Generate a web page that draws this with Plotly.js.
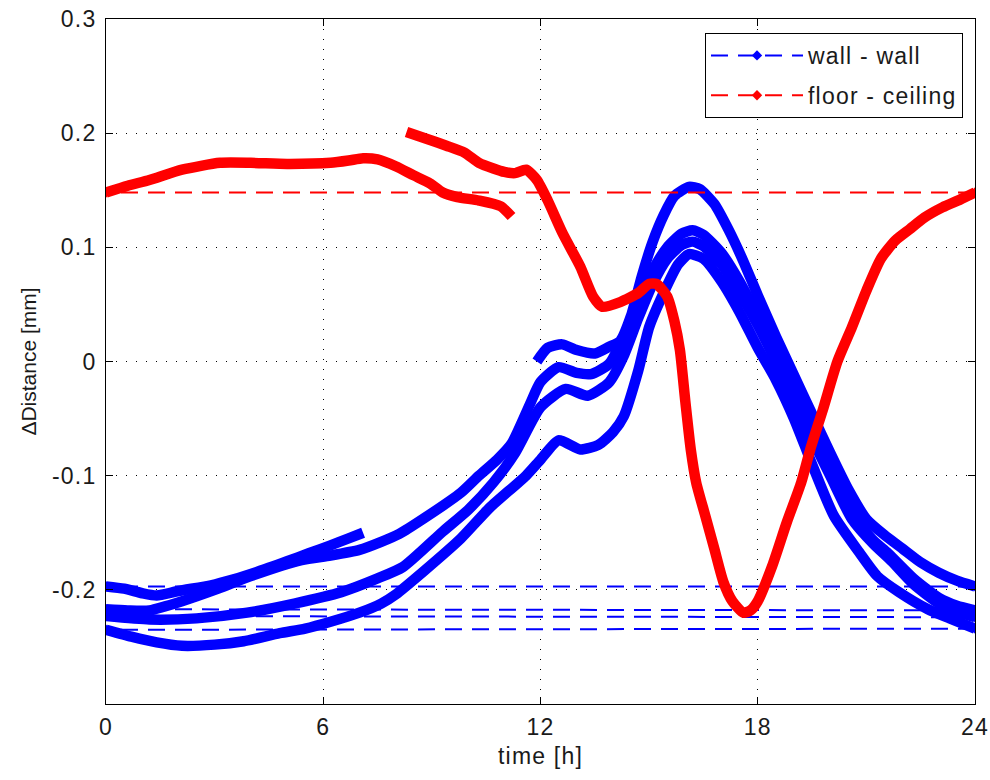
<!DOCTYPE html>
<html>
<head>
<meta charset="utf-8">
<script src="https://cdn.plot.ly/plotly-3.0.1.min.js"></script>
<style>
html,body{margin:0;padding:0;background:#fff;}
#chart{width:990px;height:780px;}
svg text{letter-spacing:1.2px;}
svg text.ytitle{letter-spacing:0px;}
</style>
</head>
<body>
<div id="chart"></div>
<script>
// ---- tick labels ----
const xTicks = [0, 6, 12, 18, 24];
const xTickText = ["0", "6", "12", "18", "24"];
const yTicks = [-0.2, -0.1, 0, 0.1, 0.2, 0.3];
const yTickText = ["-0.2", "-0.1", "0", "0.1", "0.2", "0.3"];
const seriesNames = ["wall - wall", "floor - ceiling"];

// ---- wall - wall, series 1 (starts at 11.9 h, wraps past 24 h) ----
const w1aX = [11.9, 12.2, 12.6, 13.0, 13.5, 13.9, 14.2, 14.5, 14.8, 15.1, 15.4, 15.7, 16.1, 16.4, 16.8, 17.2, 17.6, 18.0, 18.5, 19.0, 19.5, 20.0, 20.5, 21.0, 21.5, 22.0, 22.5, 23.0, 23.5, 24.0];
const w1aY = [0.000, 0.012, 0.015, 0.010, 0.007, 0.013, 0.018, 0.040, 0.075, 0.105, 0.128, 0.145, 0.153, 0.151, 0.138, 0.115, 0.088, 0.058, 0.022, -0.012, -0.046, -0.080, -0.112, -0.138, -0.152, -0.164, -0.176, -0.185, -0.192, -0.197];
const w1bX = [0, 0.5, 1.0, 1.4, 2.0, 2.9, 3.5, 4.2, 5.0, 5.6, 6.2, 6.7, 7.1];
const w1bY = [-0.197, -0.199, -0.203, -0.205, -0.201, -0.196, -0.191, -0.184, -0.175, -0.168, -0.161, -0.155, -0.150];

// ---- wall - wall, series 2 ----
const w2X = [0, 0.6, 1.2, 2.1, 3.1, 4.0, 5.4, 6.2, 7.0, 7.6, 8.1, 8.8, 9.8, 10.3, 10.8, 11.2, 11.7, 12.0, 12.5, 13.0, 13.4, 13.9, 14.3, 14.7, 15.1, 15.5, 15.9, 16.2, 16.5, 17.0, 17.5, 18.0, 18.5, 19.0, 19.5, 20.0, 20.7, 21.2, 21.6, 22.3, 23.0, 23.5, 24.0];
const w2Y = [-0.217, -0.218, -0.218, -0.210, -0.199, -0.188, -0.174, -0.170, -0.165, -0.158, -0.151, -0.137, -0.115, -0.100, -0.086, -0.072, -0.038, -0.018, -0.005, -0.010, -0.011, -0.002, 0.022, 0.052, 0.080, 0.100, 0.112, 0.115, 0.111, 0.095, 0.070, 0.040, 0.008, -0.027, -0.062, -0.095, -0.138, -0.157, -0.168, -0.190, -0.207, -0.214, -0.218];

// ---- wall - wall, series 3 ----
const w3X = [0, 1.2, 2.5, 3.9, 5.2, 6.5, 7.5, 8.2, 9.3, 10.0, 10.7, 11.3, 12.0, 12.7, 13.3, 13.9, 14.3, 14.7, 15.1, 15.5, 15.9, 16.2, 16.5, 17.0, 17.5, 18.0, 18.5, 19.0, 19.5, 20.0, 20.6, 21.2, 21.7, 22.3, 23.0, 23.5, 24.0];
const w3Y = [-0.223, -0.226, -0.225, -0.220, -0.212, -0.202, -0.190, -0.180, -0.149, -0.130, -0.106, -0.080, -0.040, -0.024, -0.030, -0.018, 0.005, 0.038, 0.068, 0.090, 0.102, 0.105, 0.101, 0.085, 0.060, 0.032, 0.000, -0.034, -0.068, -0.100, -0.138, -0.160, -0.175, -0.195, -0.212, -0.219, -0.224];

// ---- wall - wall, series 4 ----
const w4X = [0, 0.7, 1.4, 2.1, 3.0, 3.8, 4.8, 5.5, 6.2, 7.0, 7.6, 8.0, 8.8, 9.8, 10.6, 11.6, 12.0, 12.5, 13.1, 13.6, 14.0, 14.3, 14.7, 15.0, 15.4, 15.8, 16.1, 16.5, 17.0, 17.5, 18.0, 18.5, 19.0, 19.5, 20.1, 20.8, 21.3, 21.9, 22.7, 23.3, 24.0];
const w4Y = [-0.235, -0.241, -0.246, -0.249, -0.248, -0.245, -0.238, -0.234, -0.228, -0.220, -0.212, -0.204, -0.183, -0.155, -0.128, -0.100, -0.086, -0.069, -0.077, -0.073, -0.062, -0.048, -0.008, 0.030, 0.060, 0.085, 0.094, 0.090, 0.070, 0.043, 0.012, -0.016, -0.050, -0.090, -0.135, -0.167, -0.188, -0.202, -0.217, -0.225, -0.234];

// ---- floor - ceiling: segment after wrap (0 .. 11.2 h) ----
const fcaX = [0, 0.6, 1.2, 2.1, 3.15, 4.0, 5.0, 6.2, 6.7, 7.1, 7.5, 8.0, 8.5, 8.95, 9.3, 9.7, 10.3, 10.9, 11.2];
const fcaY = [0.148, 0.154, 0.159, 0.168, 0.174, 0.174, 0.173, 0.174, 0.176, 0.178, 0.177, 0.171, 0.163, 0.156, 0.148, 0.144, 0.141, 0.136, 0.127];
// ---- floor - ceiling: first segment (8.3 .. 24 h) ----
const fcbX = [8.3, 8.95, 9.4, 9.9, 10.3, 10.7, 11.0, 11.3, 11.6, 11.9, 12.2, 12.6, 13.1, 13.45, 13.7, 14.2, 14.7, 15.0, 15.2, 15.5, 15.7, 15.85, 16.0, 16.15, 16.3, 16.55, 16.8, 17.05, 17.3, 17.6, 17.8, 18.0, 18.4, 18.8, 19.2, 19.45, 19.8, 20.2, 20.6, 21.0, 21.4, 21.8, 22.2, 22.6, 23.1, 23.6, 24.0];
const fcbY = [0.201, 0.194, 0.189, 0.183, 0.174, 0.169, 0.166, 0.165, 0.168, 0.159, 0.141, 0.113, 0.083, 0.057, 0.048, 0.052, 0.060, 0.068, 0.068, 0.057, 0.035, 0.010, -0.035, -0.077, -0.106, -0.135, -0.164, -0.193, -0.210, -0.220, -0.218, -0.210, -0.179, -0.141, -0.106, -0.077, -0.042, 0.000, 0.030, 0.062, 0.090, 0.106, 0.116, 0.126, 0.135, 0.142, 0.148];

const BLUE = "#0000ff", RED = "#ff0000";
const BAND_W = 10.5;

function band(x, y, color) {
  return {x: x, y: y, type: "scatter", mode: "lines", showlegend: false, hoverinfo: "skip",
          line: {color: color, width: BAND_W, shape: "spline", smoothing: 0.6}};
}
// dashed wrap-around connectors from the 24 h end back to the 0 h start of each record
function wrapTrace(ends, starts, color, name, group) {
  const x = [], y = [];
  for (let i = 0; i < ends.length; i++) {
    x.push(24, 0, null); y.push(ends[i], starts[i], null);
  }
  return {x: x, y: y, type: "scatter", mode: "lines+markers", name: name, legendgroup: group,
          connectgaps: false, hoverinfo: "skip",
          line: {color: color, width: 2, dash: "17px,10px"},
          marker: {color: color, size: 8, symbol: "diamond"}};
}

const blueEnds = [w1aY[w1aY.length - 1], w2Y[w2Y.length - 1], w3Y[w3Y.length - 1], w4Y[w4Y.length - 1]];
const blueStarts = [w1bY[0], w2Y[0], w3Y[0], w4Y[0]];
const redEnds = [fcbY[fcbY.length - 1]];
const redStarts = [fcaY[0]];

const data = [
  band(w4X, w4Y, BLUE), band(w3X, w3Y, BLUE), band(w2X, w2Y, BLUE),
  band(w1aX, w1aY, BLUE), band(w1bX, w1bY, BLUE),
  wrapTrace(blueEnds, blueStarts, BLUE, seriesNames[0], "a"),
  band(fcaX, fcaY, RED), band(fcbX, fcbY, RED),
  wrapTrace(redEnds, redStarts, RED, seriesNames[1], "b")
];

const FONT = {family: "Liberation Sans, Arial, sans-serif", size: 23, color: "#1a1a1a"};
const axisCommon = {
  showline: true, linecolor: "#000", linewidth: 1, mirror: "ticks",
  ticks: "inside", ticklen: 7, tickcolor: "#000", tickwidth: 1,
  showgrid: true, gridcolor: "#000", gridwidth: 1, griddash: "1px,9px",
  zeroline: false, tickfont: FONT, fixedrange: true
};

const layout = {
  width: 990, height: 780,
  margin: {l: 106, r: 15, t: 19, b: 76},
  paper_bgcolor: "#fff", plot_bgcolor: "#fff",
  font: FONT,
  showlegend: true,
  xaxis: Object.assign({}, axisCommon, {
    range: [0, 24], tickmode: "array", tickvals: xTicks, ticktext: xTickText,
    ticklabelstandoff: 2,
    title: {text: "time [h]", font: FONT, standoff: 9}
  }),
  yaxis: Object.assign({}, axisCommon, {
    range: [-0.3, 0.3], tickmode: "array", tickvals: yTicks, ticktext: yTickText,
    ticklabelstandoff: 4,
    title: {text: "ΔDistance [mm]", font: Object.assign({}, FONT, {size: 21}), standoff: 9}
  }),
  legend: {
    x: 0.9862, xanchor: "right", y: 0.9796, yanchor: "top",
    bgcolor: "#fff", bordercolor: "#000", borderwidth: 1,
    font: FONT, traceorder: "grouped", tracegroupgap: 7, itemwidth: 92
  }
};

Plotly.newPlot("chart", data, layout, {displayModeBar: false, staticPlot: true});
</script>
</body>
</html>
